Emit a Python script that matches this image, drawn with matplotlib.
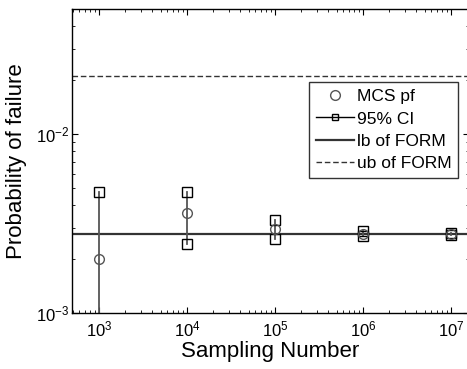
import matplotlib
matplotlib.use("Agg")
import matplotlib.pyplot as plt
import numpy as np

plt.rcParams['font.family'] = ['Liberation Sans', 'DejaVu Sans']

n_samples = [1e3, 1e4, 1e5, 1e6, 1e7]
mcs_pf = [0.0020, 0.0036, 0.00294, 0.00277, 0.00277]
ci_upper = [0.00472, 0.00474, 0.00332, 0.00286, 0.00281]
ci_lower = [0.0, 0.00244, 0.00260, 0.00268, 0.00273]
lb_form = 0.00277
ub_form = 0.0210

fig = plt.figure(figsize=(4.67, 3.69), dpi=100)
W, H = 467, 369
ax = fig.add_axes([72 / W, 1 - 313 / H, (469 - 72) / W, (313 - 9) / H])
ax.set_xscale('log')
ax.set_yscale('log', nonpositive='clip')

gray = '#555555'
for i, n in enumerate(n_samples):
    lo = ci_lower[i] if ci_lower[i] > 0 else 1e-6
    ax.plot([n, n], [lo, ci_upper[i]], color=gray, lw=1.3, zorder=2)
    mk = [ci_upper[i]] + ([ci_lower[i]] if ci_lower[i] > 0 else [])
    ax.plot([n] * len(mk), mk, ls='none', marker='s', ms=7, mfc='none',
            mec='black', mew=1.0, zorder=3)
ci_handle, = ax.plot([], [], color='black', lw=1.0, marker='s', ms=5,
                     mfc='none', mec='black', mew=1.0, label='95% CI')
pf_handle, = ax.plot(n_samples, mcs_pf, ls='none', marker='o', ms=7,
                     mfc='none', mec=gray, mew=1.0, label='MCS pf', zorder=4)
lb_handle = ax.axhline(lb_form, color='#333333', lw=1.6, label='lb of FORM', zorder=1)
ub_handle = ax.axhline(ub_form, color='#333333', lw=1.0, ls=(0, (4, 2)), label='ub of FORM', zorder=1)

x_left = 10 ** (3 - 27 / 88)
x_right = 10 ** (3 + (469 - 99) / 88)
ax.set_xlim(x_left, x_right)
ax.set_ylim(1e-3, 0.05)
ax.set_xticks([1e3, 1e4, 1e5, 1e6, 1e7])
ax.set_yticks([1e-3, 1e-2])
ax.tick_params(which='both', direction='in', top=True, right=True, labelsize=12)
ax.tick_params(which='major', length=4)
ax.tick_params(axis='x', which='major', pad=5)
ax.tick_params(axis='y', which='major', pad=2)
ax.tick_params(which='minor', length=2)
ax.set_xlabel('Sampling Number', fontsize=16, labelpad=1)
ax.set_ylabel('Probability of failure', fontsize=16, labelpad=6)
for s in ax.spines.values():
    s.set_linewidth(1.0)

leg = ax.legend(handles=[pf_handle, ci_handle, lb_handle, ub_handle],
                loc='upper left', bbox_to_anchor=((309 - 72) / (469 - 72), 1 - (82 - 9) / (313 - 9)),
                fontsize=12.5, frameon=True, fancybox=False, edgecolor='black',
                borderpad=0.4, labelspacing=0.42, handlelength=2.2, handletextpad=0.15,
                borderaxespad=0)
leg.get_frame().set_linewidth(1.0)

fig.savefig('out.png', dpi=100)
